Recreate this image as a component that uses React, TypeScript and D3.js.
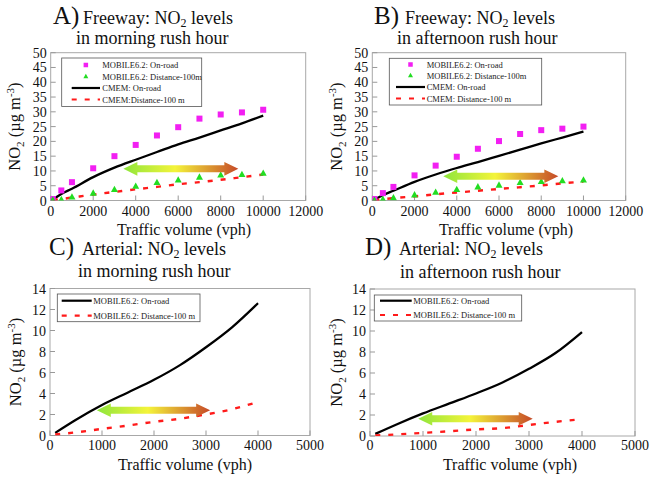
import React from 'react';
import * as d3 from 'd3';

// ---------- data ----------
const fwX = [100, 500, 1000, 2000, 3000, 4000, 5000, 6000, 7000, 8000, 9000, 10000];
const aMobileOnRoad = [0.5, 3.4, 6.2, 10.9, 15.0, 18.8, 22.0, 24.8, 27.7, 29.1, 29.8, 30.7];
const aMobile100m = [0.2, 0.3, 1.2, 2.5, 3.7, 4.8, 6.1, 6.9, 7.9, 8.6, 8.8, 9.2];
const aCmemOnRoad = [0.3, 2.2, 4.0, 7.9, 11.1, 13.8, 16.4, 19.0, 21.3, 23.7, 26.1, 28.7];
const aCmem100m = [0.2, 0.5, 1.0, 2.0, 2.9, 3.8, 4.6, 5.5, 6.2, 7.0, 7.9, 8.8];

const bMobileOnRoad = [0.5, 2.5, 4.6, 8.5, 11.8, 14.8, 17.5, 20.1, 22.5, 23.8, 24.3, 25.0];
const bMobile100m = [0.1, 0.4, 0.9, 1.9, 2.8, 3.7, 4.6, 5.2, 6.1, 6.4, 6.7, 6.9];
const bCmemOnRoad = [0.3, 1.8, 3.3, 6.3, 8.8, 11.0, 13.0, 15.1, 17.2, 19.3, 21.3, 23.3];
const bCmem100m = [0.1, 0.4, 0.8, 1.4, 2.1, 2.7, 3.3, 3.9, 4.5, 5.1, 5.8, 6.4];

const artX = [100, 500, 1000, 1500, 2000, 2500, 3000, 3500, 4000];
const cOnRoad = [0.25, 1.5, 2.9, 4.1, 5.3, 6.7, 8.4, 10.3, 12.6];
const cX100 = [100, 500, 1000, 1500, 2000, 2500, 2800, 3500, 3900];
const c100m = [0.1, 0.3, 0.63, 0.95, 1.3, 1.6, 1.84, 2.5, 3.05];
const dOnRoad = [0.2, 1.1, 2.15, 3.1, 4.05, 5.1, 6.4, 7.9, 9.9];
const d100m = [0.05, 0.15, 0.3, 0.45, 0.63, 0.75, 1.05, 1.35, 1.6];
const dX100 = [100, 500, 1000, 1500, 2000, 2500, 3000, 3500, 4000];

const fwXTicks = [0, 2000, 4000, 6000, 8000, 10000, 12000];
const fwYTicks = [0, 5, 10, 15, 20, 25, 30, 35, 40, 45, 50];
const artXTicks = [0, 1000, 2000, 3000, 4000, 5000];
const artYTicks = [0, 2, 4, 6, 8, 10, 12, 14];

const fwLegend = ['MOBILE6.2: On-road', 'MOBILE6.2: Distance-100m', 'CMEM: On-road'];
const aLegend4 = 'CMEM:Distance-100 m';
const bLegend4 = 'CMEM: Distance-100 m';
const artLegend = ['MOBILE6.2: On-road', 'MOBILE6.2: Distance-100 m'];

// arrows (data units): [xLeft, xRight, y]
const arrowA = [3420, 8830, 10.7];
const arrowB = [3360, 8810, 8.2];
const arrowC = [900, 3080, 2.4];
const arrowD = [910, 3070, 1.65];

const FONT = "'Liberation Serif', 'Times New Roman', serif";
const PINK = '#f21ff2';
const GREEN = '#22dd22';
const RED = '#ff1a1a';

type Series = { kind: 'square' | 'triangle' | 'solid' | 'dash'; xs: number[]; ys: number[] };

type PanelCfg = {
  id: string;
  letter: string;
  line1: string;
  line2: string;
  titleX: number; textX: number; line2X: number; base1: number; base2: number;
  x0: number; x1: number; y0: number; y1: number;
  xMax: number; yMax: number; xTicks: number[]; yTicks: number[];
  xTitleX: number; xTickBase: number; xTitleBase: number; yTitleX: number;
  series: Series[];
  legend: { box: [number, number, number, number]; rows: number[]; sample: [number, number]; textX: number; labels: string[]; kinds: Series['kind'][] };
  arrow: number[];
};

const panels: PanelCfg[] = [
  {
    id: 'A', letter: 'A)', line1: 'Freeway: NO', line2: 'in morning rush hour',
    titleX: 53, textX: 83, line2X: 76, base1: 24, base2: 44,
    x0: 50.7, x1: 305.7, y0: 200.5, y1: 52.7, xMax: 12000, yMax: 50,
    xTicks: fwXTicks, yTicks: fwYTicks,
    xTitleX: 184, xTickBase: 216, xTitleBase: 235, yTitleX: 20,
    series: [
      { kind: 'solid', xs: fwX, ys: aCmemOnRoad },
      { kind: 'dash', xs: fwX, ys: aCmem100m },
      { kind: 'square', xs: fwX, ys: aMobileOnRoad },
      { kind: 'triangle', xs: fwX, ys: aMobile100m },
    ],
    legend: { box: [61.7, 58, 201.7, 106.5], rows: [65, 76.5, 88, 99.5], sample: [71.7, 100], textX: 102.3, labels: [...fwLegend, aLegend4], kinds: ['square', 'triangle', 'solid', 'dash'] },
    arrow: arrowA,
  },
  {
    id: 'B', letter: 'B)', line1: 'Freeway: NO', line2: 'in afternoon rush hour',
    titleX: 374, textX: 405, line2X: 397, base1: 24, base2: 44,
    x0: 372.3, x1: 625.7, y0: 200.5, y1: 52.7, xMax: 12000, yMax: 50,
    xTicks: fwXTicks, yTicks: fwYTicks,
    xTitleX: 506, xTickBase: 216, xTitleBase: 235, yTitleX: 342,
    series: [
      { kind: 'solid', xs: fwX, ys: bCmemOnRoad },
      { kind: 'dash', xs: fwX, ys: bCmem100m },
      { kind: 'square', xs: fwX, ys: bMobileOnRoad },
      { kind: 'triangle', xs: fwX, ys: bMobile100m },
    ],
    legend: { box: [389.3, 58.3, 541.7, 105], rows: [64.5, 75.5, 87, 98.5], sample: [396, 425], textX: 426.7, labels: [...fwLegend, bLegend4], kinds: ['square', 'triangle', 'solid', 'dash'] },
    arrow: arrowB,
  },
  {
    id: 'C', letter: 'C)', line1: 'Arterial: NO', line2: 'in morning rush hour',
    titleX: 49, textX: 82, line2X: 78, base1: 255, base2: 277,
    x0: 50, x1: 310, y0: 435.5, y1: 288.5, xMax: 5000, yMax: 14,
    xTicks: artXTicks, yTicks: artYTicks,
    xTitleX: 185, xTickBase: 450, xTitleBase: 470, yTitleX: 21,
    series: [
      { kind: 'solid', xs: artX, ys: cOnRoad },
      { kind: 'dash', xs: cX100, ys: c100m },
    ],
    legend: { box: [57.3, 294, 200, 321.7], rows: [300.7, 315.7], sample: [61.7, 91.7], textX: 93.3, labels: artLegend, kinds: ['solid', 'dash'] },
    arrow: arrowC,
  },
  {
    id: 'D', letter: 'D)', line1: 'Arterial: NO', line2: 'in afternoon rush hour',
    titleX: 365, textX: 399, line2X: 400, base1: 255, base2: 278,
    x0: 370, x1: 635, y0: 436, y1: 289, xMax: 5000, yMax: 14,
    xTicks: artXTicks, yTicks: artYTicks,
    xTitleX: 510, xTickBase: 450, xTitleBase: 470, yTitleX: 342,
    series: [
      { kind: 'solid', xs: artX, ys: dOnRoad },
      { kind: 'dash', xs: dX100, ys: d100m },
    ],
    legend: { box: [374.3, 295, 521.7, 321], rows: [300.7, 315], sample: [380, 411.7], textX: 413.3, labels: artLegend, kinds: ['solid', 'dash'] },
    arrow: arrowD,
  },
];

function Marker({ kind, x, y, s }: { kind: 'square' | 'triangle'; x: number; y: number; s: number }) {
  if (kind === 'square') return <rect x={x - s / 2} y={y - s / 2} width={s} height={s} fill={PINK} />;
  const h = s * 0.9;
  return <polygon points={`${x},${y - h * 0.6} ${x - s / 2},${y + h * 0.4} ${x + s / 2},${y + h * 0.4}`} fill={GREEN} />;
}

function Panel({ p }: { p: PanelCfg }) {
  const sx = d3.scaleLinear().domain([0, p.xMax]).range([p.x0, p.x1]);
  const sy = d3.scaleLinear().domain([0, p.yMax]).range([p.y0, p.y1]);
  const line = d3.line<[number, number]>().x(d => sx(d[0])).y(d => sy(d[1])).curve(d3.curveMonotoneX);

  const [axl, axr, ay] = p.arrow;
  const lx = sx(axl), rx = sx(axr), cy = sy(ay);
  const hl = 14, hh = 6.8, sh = 3.5;
  const arrowPts = [
    [lx, cy], [lx + hl, cy - hh], [lx + hl, cy - sh], [rx - hl, cy - sh], [rx - hl, cy - hh],
    [rx, cy], [rx - hl, cy + hh], [rx - hl, cy + sh], [lx + hl, cy + sh], [lx + hl, cy + hh],
  ].map(q => q.join(',')).join(' ');

  const lg = p.legend;
  return (
    <g>
      <defs>
        <linearGradient id={`grad${p.id}`} x1="0" x2="1" y1="0" y2="0">
          <stop offset="0" stopColor="#8ee63c" />
          <stop offset="0.45" stopColor="#f4f43a" />
          <stop offset="1" stopColor="#c64a28" />
        </linearGradient>
        <clipPath id={`clip${p.id}`}>
          <rect x={p.x0} y={p.y1} width={p.x1 - p.x0} height={p.y0 - p.y1} />
        </clipPath>
      </defs>
      {/* titles */}
      <text x={p.titleX} y={p.base1} fontFamily={FONT} fontSize={25} fill="#111">{p.letter}</text>
      <text x={p.textX} y={p.base1} fontFamily={FONT} fontSize={18} fill="#111">
        {p.line1}<tspan fontSize={12} dy={3}>2</tspan><tspan dy={-3}> levels</tspan>
      </text>
      <text x={p.line2X} y={p.base2} fontFamily={FONT} fontSize={18} fill="#111">{p.line2}</text>

      {/* frame */}
      <rect x={p.x0} y={p.y1} width={p.x1 - p.x0} height={p.y0 - p.y1} fill="white" stroke="#a8a8a8" strokeWidth={1} />
      {p.xTicks.map(t => (
        <g key={'x' + t}>
          <line x1={sx(t)} x2={sx(t)} y1={p.y0} y2={p.y0 - 5} stroke="#999" strokeWidth={1} />
          <text x={sx(t)} y={p.xTickBase} textAnchor="middle" fontFamily={FONT} fontSize={14} fill="#111">{t}</text>
        </g>
      ))}
      {p.yTicks.map(t => (
        <g key={'y' + t}>
          <line x1={p.x0} x2={p.x0 + 5} y1={sy(t)} y2={sy(t)} stroke="#999" strokeWidth={1} />
          <text x={p.x0 - 4} y={sy(t) + 5} textAnchor="end" fontFamily={FONT} fontSize={14} fill="#111">{t}</text>
        </g>
      ))}
      <text x={p.xTitleX} y={p.xTitleBase} textAnchor="middle" fontFamily={FONT} fontSize={16} fill="#111">Traffic volume (vph)</text>
      <text transform={`translate(${p.yTitleX},${(p.y0 + p.y1) / 2}) rotate(-90)`} textAnchor="middle" fontFamily={FONT} fontSize={16.5} fill="#111">
        NO<tspan fontSize={11} dy={4}>2</tspan><tspan dy={-4}> (µg m</tspan><tspan fontSize={11} dy={-6}>-3</tspan><tspan dy={6}>)</tspan>
      </text>

      {/* series */}
      <g clipPath={`url(#clip${p.id})`}>
        {p.series.map((s, i) => {
          const pts = s.xs.map((x, j) => [x, s.ys[j]] as [number, number]);
          if (s.kind === 'solid') return <path key={i} d={line(pts) || ''} fill="none" stroke="#000" strokeWidth={2.3} />;
          if (s.kind === 'dash') return <path key={i} d={line(pts) || ''} fill="none" stroke={RED} strokeWidth={2.4} strokeDasharray="5,8" />;
          return <g key={i}>{pts.map((q, j) => <Marker key={j} kind={s.kind as 'square' | 'triangle'} x={sx(q[0])} y={sy(q[1])} s={s.kind === 'square' ? 6 : 7} />)}</g>;
        })}
      </g>

      {/* arrow */}
      <polygon points={arrowPts} fill={`url(#grad${p.id})`} />

      {/* legend */}
      <rect x={lg.box[0]} y={lg.box[1]} width={lg.box[2] - lg.box[0]} height={lg.box[3] - lg.box[1]} fill="white" stroke="#555" strokeWidth={0.8} />
      {lg.labels.map((lab, i) => {
        const k = lg.kinds[i];
        const ry = lg.rows[i];
        const mx = (lg.sample[0] + lg.sample[1]) / 2;
        return (
          <g key={i}>
            {k === 'square' || k === 'triangle'
              ? <Marker kind={k} x={mx} y={ry} s={k === 'square' ? 4.5 : 5} />
              : <line x1={lg.sample[0]} x2={lg.sample[1]} y1={ry} y2={ry} stroke={k === 'solid' ? '#000' : RED} strokeWidth={2.2} strokeDasharray={k === 'dash' ? '5,8' : undefined} />}
            <text x={lg.textX} y={ry + 3} fontFamily={FONT} fontSize={8.5} fill="#222">{lab}</text>
          </g>
        );
      })}
    </g>
  );
}

export default function App() {
  return (
    <svg width={654} height={484} style={{ position: 'absolute', left: 0, top: 0, background: 'white' }}>
      <rect x={0} y={0} width={654} height={484} fill="white" />
      {panels.map(p => <Panel key={p.id} p={p} />)}
    </svg>
  );
}
